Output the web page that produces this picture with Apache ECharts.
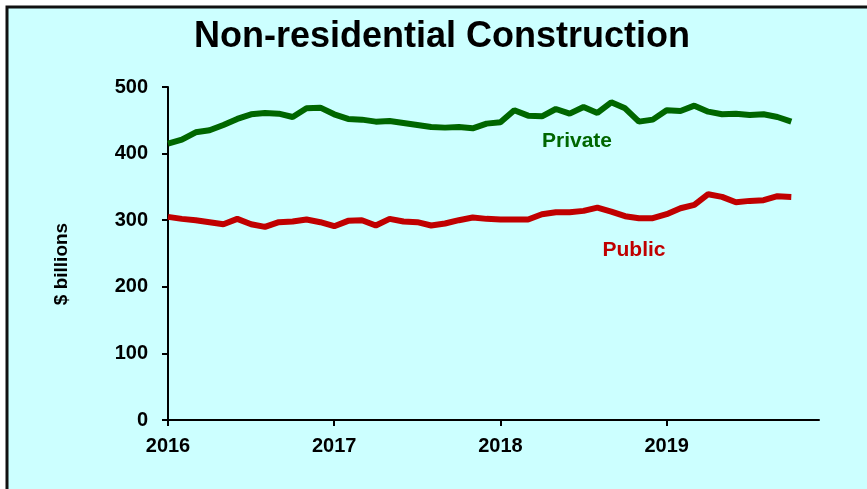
<!DOCTYPE html>
<html lang="en">
<head>
    <meta charset="UTF-8">
    <title>Non-residential Construction</title>
    <script src="https://cdn.jsdelivr.net/npm/echarts@6/dist/echarts.min.js"></script>
    <style>
        html, body { margin: 0; padding: 0; background: #fff; }
        #render-target { width: 867px; height: 489px; }
    </style>
</head>
<body>
    <div id="render-target"></div>
    <script>
        // monthly, Jan 2016 .. Oct 2019, $ billions
        const startYear = 2016
        const yearTicks = [2016, 2017, 2018, 2019]
        const privateValues = [
            415, 421, 432, 435, 443, 452, 459, 461, 460, 455, 468, 469,
            459, 452, 451, 448, 449, 446, 443, 440, 439, 440, 438, 445,
            447, 465, 457, 456, 467, 460, 470, 461, 477, 468, 448, 451,
            465, 464, 472, 463, 459, 460, 458, 459, 455, 448
        ]
        const publicValues = [
            305, 302, 300, 297, 294, 302, 294, 290, 297, 298, 301, 297,
            291, 299, 300, 292, 302, 298, 297, 292, 295, 300, 304, 302,
            301, 301, 301, 309, 312, 312, 314, 319, 313, 306, 303, 303,
            309, 318, 323, 339, 335, 327, 329, 330, 336, 335
        ]

        const toPairs = arr => arr.map((v, i) => [i, v])
        const tickMonths = yearTicks.map(y => (y - startYear) * 12)

        const chart = echarts.init(document.querySelector("#render-target"))
        const font = "Liberation Sans, Arial, sans-serif"

        chart.setOption({
            animation: false,
            textStyle: { fontFamily: font },
            graphic: [
                {
                    type: "rect", z: -10, silent: true,
                    shape: { x: 7, y: 7, width: 900, height: 520 },
                    style: { fill: "#ccffff", stroke: "#111", lineWidth: 3 }
                },
                {
                    type: "text", x: 442, y: 37,
                    style: { text: "Non-residential Construction", font: "bold 36px " + font, fill: "#000", align: "center", verticalAlign: "middle" }
                },
                {
                    type: "text", x: 62, y: 264, rotation: Math.PI / 2,
                    style: { text: "$ billions", font: "bold 19px " + font, fill: "#000", align: "center", verticalAlign: "middle" }
                },
                {
                    type: "text", x: 577, y: 141,
                    style: { text: "Private", font: "bold 21px " + font, fill: "#006600", align: "center", verticalAlign: "middle" }
                },
                {
                    type: "text", x: 634, y: 250,
                    style: { text: "Public", font: "bold 21px " + font, fill: "#c00000", align: "center", verticalAlign: "middle" }
                }
            ],
            grid: { left: 168, right: 48, top: 87, bottom: 69, containLabel: false },
            xAxis: {
                type: "value", min: 0, max: 47, interval: 12,
                axisLine: { lineStyle: { color: "#000", width: 2 } },
                axisTick: { length: 6, customValues: tickMonths, lineStyle: { color: "#000", width: 2 } },
                splitLine: { show: false },
                axisLabel: {
                    color: "#000", fontSize: 20, fontWeight: "bold", margin: 16,
                    customValues: tickMonths,
                    formatter: v => String(startYear + v / 12)
                }
            },
            yAxis: {
                type: "value", min: 0, max: 500, interval: 100,
                axisLine: { show: true, lineStyle: { color: "#000", width: 2 } },
                axisTick: { show: true, length: 6, lineStyle: { color: "#000", width: 2 } },
                splitLine: { show: false },
                axisLabel: { color: "#000", fontSize: 20, fontWeight: "bold", margin: 20 }
            },
            series: [
                {
                    name: "Private", type: "line", data: toPairs(privateValues),
                    showSymbol: false, lineStyle: { color: "#006600", width: 6 }
                },
                {
                    name: "Public", type: "line", data: toPairs(publicValues),
                    showSymbol: false, lineStyle: { color: "#c00000", width: 6 }
                }
            ]
        })
    </script>
</body>
</html>
